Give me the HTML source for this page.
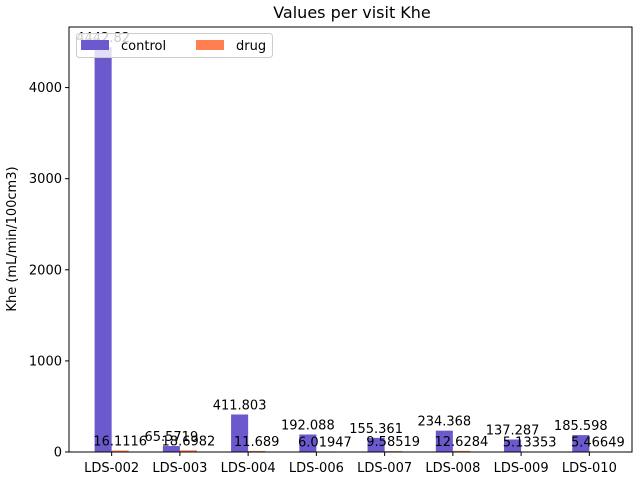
<!DOCTYPE html>
<html><head><meta charset="utf-8"><style>
body{margin:0;background:#fff;font-family:"Liberation Sans","DejaVu Sans",sans-serif;}
</style></head><body>
<svg id="c" width="640" height="480" xmlns="http://www.w3.org/2000/svg" font-family="DejaVu Sans, Liberation Sans, sans-serif"></svg>
<script>
const categories=["LDS-002","LDS-003","LDS-004","LDS-006","LDS-007","LDS-008","LDS-009","LDS-010"];
const controlValues=[4442.82,65.5719,411.803,192.088,155.361,234.368,137.287,185.598];
const drugValues=[16.1116,18.6982,11.689,6.01947,9.58519,12.6284,5.13353,5.46649];
const controlLabels=["4442.82","65.5719","411.803","192.088","155.361","234.368","137.287","185.598"];
const drugLabels=["16.1116","18.6982","11.689","6.01947","9.58519","12.6284","5.13353","5.46649"];
const yTicks=[0,1000,2000,3000,4000];

const NS="http://www.w3.org/2000/svg";
const svg=document.getElementById('c');
const L=69,R=632,T=27,B=452;
const n=categories.length,w=0.25;
const xmin=-0.5-w/2-0.0,xr=[-(w+0.375),n-1+w+0.375];
const ymax=Math.max(...controlValues,...drugValues)*1.05;
const x=v=>L+(v-xr[0])/(xr[1]-xr[0])*(R-L);
const y=v=>B-v/ymax*(B-T);
function mk(tag,attrs,txt){const e=document.createElementNS(NS,tag);for(const k in attrs)e.setAttribute(k,attrs[k]);if(txt!==undefined)e.textContent=txt;svg.appendChild(e);return e;}

let e=mk('text',{x:352,y:18,'text-anchor':'middle','font-size':16,fill:'#000'},'Values per visit Khe');

e=mk('text',{x:0,y:0,transform:'translate(16,239) rotate(-90)','text-anchor':'middle','font-size':13,fill:'#000'},'Khe (mL/min/100cm3)');


categories.forEach((c,i)=>{
  const cx=x(i-w/2),dx=x(i+w/2),bw=x(w)-x(0);
  let b=mk('rect',{x:cx-bw/2,y:y(controlValues[i]),width:bw,height:B-y(controlValues[i]),fill:'#6a5acd'});
  
  b=mk('rect',{x:dx-bw/2,y:y(drugValues[i]),width:bw,height:B-y(drugValues[i]),fill:'#ff7f50'});
  
  let t=mk('text',{x:cx,y:y(controlValues[i])-5,'text-anchor':'middle','font-size':13,fill:'#000'},controlLabels[i]);
  
  t=mk('text',{x:dx,y:y(drugValues[i])-5,'text-anchor':'middle','font-size':13,fill:'#000'},drugLabels[i]);
  
  mk('line',{x1:x(i),x2:x(i),y1:B,y2:B+4,stroke:'#000'});
  t=mk('text',{x:x(i),y:B+20,'text-anchor':'middle','font-size':13,fill:'#000'},c);
  
});
yTicks.forEach(v=>{
  mk('line',{x1:L-4,x2:L,y1:y(v),y2:y(v),stroke:'#000'});
  const t=mk('text',{x:L-7,y:y(v)+4.5,'text-anchor':'end','font-size':13,fill:'#000'},String(v));
  
});
e=mk('rect',{x:L,y:T,width:R-L,height:B-T,fill:'none',stroke:'#000','stroke-width':1});


e=mk('rect',{x:76.5,y:33.5,width:196,height:24,rx:3,fill:'#fff','fill-opacity':0.8,stroke:'#ccc'});

mk('rect',{x:81,y:40,width:28,height:10,fill:'#6a5acd'});
e=mk('text',{x:121,y:50,'font-size':13,fill:'#000'},'control');

mk('rect',{x:196,y:40,width:28,height:10,fill:'#ff7f50'});
e=mk('text',{x:236,y:50,'font-size':13,fill:'#000'},'drug');

</script>
</body></html>
